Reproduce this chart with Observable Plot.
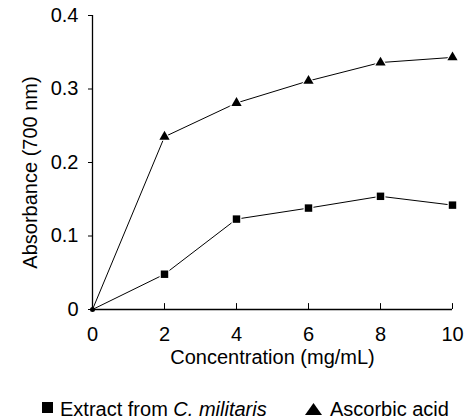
<!DOCTYPE html>
<html>
<head>
<meta charset="utf-8">
<script src="https://cdn.jsdelivr.net/npm/d3@7"></script>
<script src="https://cdn.jsdelivr.net/npm/@observablehq/plot@0.6"></script>
<style>
  html, body { margin: 0; padding: 0; background: white; }
  #wrap { position: relative; width: 465px; height: 420px; font-family: "Liberation Sans", Arial, sans-serif; color: black; }
  #chart svg { display: block; }
  .leg { position: absolute; font-size: 20px; line-height: 20px; white-space: nowrap; }
</style>
</head>
<body>
<div id="wrap">
  <div id="chart"></div>
  <div id="legend"></div>
</div>
<script>
const concentration = [0, 2, 4, 6, 8, 10];
const extractValues = [0, 0.048, 0.123, 0.138, 0.154, 0.142];
const ascorbicValues = [0, 0.235, 0.281, 0.311, 0.336, 0.343];
const xTicks = [0, 2, 4, 6, 8, 10];
const yTicks = [0, 0.1, 0.2, 0.3, 0.4];
const seriesNames = ["Extract from ", "C. militaris", "Ascorbic acid"];
const xLabel = "Concentration (mg/mL)";
const yLabel = "Absorbance (700 nm)";

const extract = concentration.map((c, i) => ({x: c, y: extractValues[i]}));
const ascorbic = concentration.map((c, i) => ({x: c, y: ascorbicValues[i]}));
const extractPts = extract.filter(d => d.x > 0);
const ascorbicPts = ascorbic.filter(d => d.x > 0);

const chart = Plot.plot({
  width: 465,
  height: 385,
  marginLeft: 92,
  marginRight: 13,
  marginTop: 15,
  marginBottom: 76,
  x: {domain: [0, 10]},
  y: {domain: [0, 0.4]},
  style: {fontFamily: "'Liberation Sans', Arial, sans-serif", fontSize: "20px", color: "black", background: "white"},
  marks: [
    Plot.line(extract, {x: "x", y: "y", stroke: "black", strokeWidth: 1}),
    Plot.line(ascorbic, {x: "x", y: "y", stroke: "black", strokeWidth: 1}),
    Plot.dot(extractPts, {x: "x", y: "y", symbol: "square", r: 5.6, fill: "white"}),
    Plot.dot(ascorbicPts, {x: "x", y: "y", symbol: "triangle", r: 5.2, fill: "white"}),
    Plot.dot(extractPts, {x: "x", y: "y", symbol: "square", r: 4.2, fill: "black"}),
    Plot.dot(ascorbicPts, {x: "x", y: "y", symbol: "triangle", r: 3.8, fill: "black"}),
    Plot.dot([extract[0]], {x: "x", y: "y", r: 2.5, fill: "black"}),
    Plot.ruleX([0], {y1: 0, y2: 0.4, stroke: "black", strokeWidth: 1.3}),
    Plot.ruleY([0], {x1: 0, x2: 10, stroke: "black", strokeWidth: 1.3}),
    Plot.ruleX(xTicks.slice(1), {y1: 0, y2: 0.008, stroke: "black", strokeWidth: 1}),
    Plot.axisY(yTicks, {tickSize: 4, tickPadding: 10, tickFormat: d => String(d), label: null, stroke: "black"}),
    Plot.axisX(xTicks, {tickSize: 0, tickPadding: 17, tickFormat: d => String(d), label: null}),
    Plot.text([xLabel], {frameAnchor: "bottom", lineAnchor: "middle", textAnchor: "middle", dy: 48, text: d => d, fill: "black"}),
    Plot.text([yLabel], {frameAnchor: "left", lineAnchor: "middle", textAnchor: "middle", dx: -62, dy: 10, rotate: -90, text: d => d, fill: "black"})
  ]
});
document.getElementById("chart").appendChild(chart);

const legend = document.getElementById("legend");
legend.innerHTML = `
  <svg class="leg" style="left:42px;top:402px" width="11" height="11"><rect width="11" height="11" fill="black"/></svg>
  <span class="leg" style="left:60px;top:399px">${seriesNames[0]}<i>${seriesNames[1]}</i></span>
  <svg class="leg" style="left:305px;top:403px" width="17" height="12"><polygon points="8.5,0 17,12 0,12" fill="black"/></svg>
  <span class="leg" style="left:330px;top:399px">${seriesNames[2]}</span>
`;
</script>
</body>
</html>
